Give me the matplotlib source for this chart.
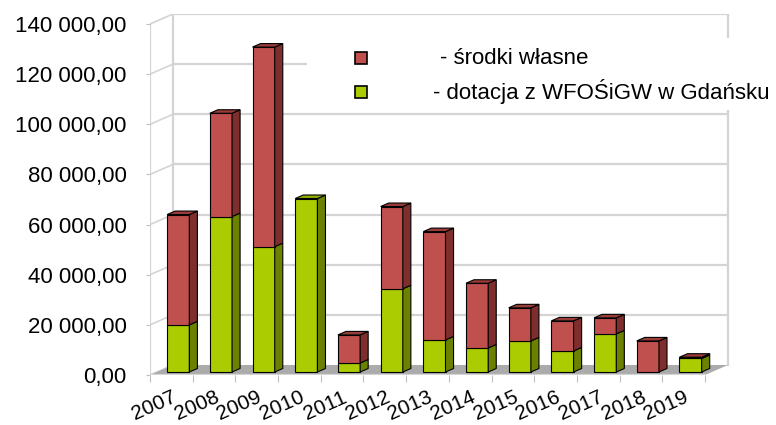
import numpy as np
import matplotlib.pyplot as plt
from matplotlib.patches import Polygon, Rectangle

plt.rcParams['font.family'] = ['Liberation Sans', 'DejaVu Sans']

# data
years = ['2007', '2008', '2009', '2010', '2011', '2012', '2013',
         '2014', '2015', '2016', '2017', '2018', '2019']
dotacja = [18800, 62000, 50000, 69200, 3600, 33200, 12800,
           9600, 12400, 8400, 15200, 0, 5400]
wlasne = [44000, 41200, 79600, 0, 11200, 32800, 43200,
          25800, 13200, 12000, 6400, 12400, 500]
yticks = [0, 20000, 40000, 60000, 80000, 100000, 120000, 140000]
legend_labels = ['- środki własne', '- dotacja z WFOŚiGW w Gdańsku']

# pixel geometry of the pseudo-3D box
W, H = 776, 425
PXX = 555 / 13          # px per category
PXY = 351 / 140000      # px per unit value
DX = 23 / PXX           # depth offset, data units
DY = 10 / PXY
n = len(years)

fig = plt.figure(figsize=(W / 100, H / 100), dpi=100)
ax = fig.add_axes([150 / W, (H - 375) / H, 580 / W, 361 / H])
ax.set_xlim(0, 580 / PXX)
ax.set_ylim(0, 361 / PXY)
for s in ax.spines.values():
    s.set_visible(False)

grid_c = '#d4d4d4'
# floor
ax.add_patch(Polygon([(0, 0), (n, 0), (n + DX, DY), (DX, DY)],
                     closed=True, fc='#ababab', ec='none', zorder=1))
# back wall + side grid
for v in yticks[1:]:
    ax.plot([DX, n + DX], [v + DY, v + DY], color=grid_c, lw=1.6, zorder=0.5)
for v in yticks:
    ax.plot([0, DX], [v, v + DY], color=grid_c, lw=1.2, zorder=0.5)
ax.plot([DX, DX], [DY, yticks[-1] + DY], color=grid_c, lw=1.6, zorder=0.5)
ax.plot([n + DX, n + DX], [DY, yticks[-1] + DY], color=grid_c, lw=1.6, zorder=0.5)
ax.plot([0, 0], [0, yticks[-1]], color=grid_c, lw=1.6, zorder=0.5)
ax.plot([0, n], [0, 0], color=grid_c, lw=1.6, zorder=1.5)

# bars
colors = {
    'g': ('#AACC00', '#6B8200', '#8FAE00'),
    'r': ('#C0504D', '#7E2F2D', '#9C3C39'),
}
bw = 0.52
d0, d1 = 0.3, 0.65
x = np.arange(n) + 0.5 + d0 * DX
bx, by = (d1 - d0) * DX, (d1 - d0) * DY
base = d0 * DY
for i in range(n):
    segs = [(dotacja[i], 'g'), (wlasne[i], 'r')]
    bottom = 0
    top_key = 'g' if wlasne[i] == 0 else 'r'
    for val, key in segs:
        if val <= 0:
            continue
        front, side, topc = colors[key]
        ax.bar(x[i], val, bottom=bottom + base, width=bw, color=front,
               edgecolor='black', lw=0.8, zorder=3)
        xr = x[i] + bw / 2
        y0, y1 = bottom + base, bottom + base + val
        ax.add_patch(Polygon([(xr, y0), (xr + bx, y0 + by), (xr + bx, y1 + by), (xr, y1)],
                             closed=True, fc=side, ec='black', lw=0.8, zorder=3))
        bottom += val
    front, side, topc = colors[top_key]
    xl, xr = x[i] - bw / 2, x[i] + bw / 2
    yt = bottom + base
    ax.add_patch(Polygon([(xl, yt), (xr, yt), (xr + bx, yt + by), (xl + bx, yt + by)],
                         closed=True, fc=topc, ec='black', lw=0.8, zorder=3))

# axes ticks
ax.set_yticks(yticks)
ax.set_yticklabels([f'{v:,.2f}'.replace(',', ' ').replace('.', ',') for v in yticks])
ax.tick_params(axis='y', length=3, color='#bfbfbf', labelsize=16, pad=14)
ax.set_xticks(np.arange(n + 1))
ax.set_xticklabels([])
ax.tick_params(axis='x', which='major', length=5, color='#bfbfbf', direction='out')
ax.set_xticks(np.arange(n) + 0.5, minor=True)
ax.set_xticklabels(years, minor=True, rotation=24, ha='right',
                   rotation_mode='anchor', fontsize=15)
ax.tick_params(axis='x', which='minor', length=0, pad=9)

# legend drawn as a box
fig.patches.append(Rectangle((307 / W, (H - 110) / H), 470 / W, 72 / H,
                             transform=fig.transFigure, fc='white', ec='none', zorder=5))
for k, (lab, key, tx) in enumerate(zip(legend_labels, ['r', 'g'], [440, 433])):
    cy = [58, 92][k]
    fig.patches.append(Rectangle((355 / W, (H - cy - 6) / H), 12 / W, 12 / H,
                                 transform=fig.transFigure, fc=colors[key][0],
                                 ec='black', lw=1.2, zorder=6))
    fig.text(tx / W, (H - cy) / H, lab, fontsize=16, va='center', ha='left', zorder=7)

fig.savefig('out.png', dpi=100)
